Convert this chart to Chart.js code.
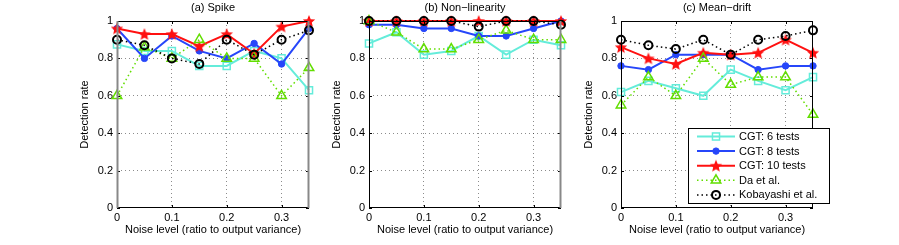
<!DOCTYPE html>
<html>
<head>
<meta charset="utf-8">
<script src="https://cdn.jsdelivr.net/npm/chart.js@4.4.1/dist/chart.umd.min.js"></script>
<style>
  body { margin: 0; background: #fff; }
  #wrap { position: relative; width: 899px; height: 245px; overflow: hidden; background: #fff; }
  canvas { position: absolute; top: 0; }
</style>
</head>
<body>
<div id="wrap">
  <canvas id="chartA" width="270" height="245" style="left:72px"></canvas>
  <canvas id="chartB" width="270" height="245" style="left:324px"></canvas>
  <canvas id="chartC" width="270" height="245" style="left:576px"></canvas>
</div>
<script>
// noise levels on the x axis
const noiseLevels = [0, 0.05, 0.1, 0.15, 0.2, 0.25, 0.3, 0.35];
const xTicks = [0, 0.1, 0.2, 0.3];
const yTicks = [0, 0.2, 0.4, 0.6, 0.8, 1];

const panelTitles = ["(a) Spike", "(b) Non\u2212linearity", "(c) Mean\u2212drift"];
const seriesNames = ["CGT: 6 tests", "CGT: 8 tests", "CGT: 10 tests", "Da et al.", "Kobayashi et al."];

// (a) spike
const spikeCgt6  = [0.875, 0.84, 0.84, 0.76, 0.76, 0.84, 0.80, 0.63];
const spikeCgt8  = [0.96, 0.80, 0.92, 0.84, 0.80, 0.88, 0.77, 0.96];
const spikeCgt10 = [0.96, 0.93, 0.93, 0.865, 0.93, 0.825, 0.97, 1.0];
const spikeDa    = [0.60, 0.86, 0.80, 0.90, 0.80, 0.80, 0.60, 0.75];
const spikeKoba  = [0.90, 0.87, 0.80, 0.77, 0.90, 0.82, 0.90, 0.95];

// (b) non-linearity
const nonlinCgt6  = [0.88, 0.94, 0.82, 0.84, 0.92, 0.82, 0.90, 0.87];
const nonlinCgt8  = [0.98, 0.98, 0.96, 0.96, 0.92, 0.92, 0.96, 1.0];
const nonlinCgt10 = [1, 1, 1, 1, 1, 1, 1, 1];
const nonlinDa    = [1.0, 0.94, 0.85, 0.85, 0.90, 0.95, 0.90, 0.90];
const nonlinKoba  = [1, 1, 1, 1, 0.97, 1, 1, 0.98];

// (c) mean-drift
const driftCgt6  = [0.62, 0.68, 0.64, 0.60, 0.74, 0.68, 0.63, 0.70];
const driftCgt8  = [0.76, 0.74, 0.82, 0.82, 0.82, 0.74, 0.76, 0.76];
const driftCgt10 = [0.86, 0.80, 0.77, 0.83, 0.82, 0.83, 0.90, 0.83];
const driftDa    = [0.55, 0.70, 0.60, 0.80, 0.66, 0.70, 0.70, 0.50];
const driftKoba  = [0.90, 0.87, 0.85, 0.90, 0.82, 0.90, 0.92, 0.95];

const FONT = "'Liberation Sans', Arial, sans-serif";
const colCyan = "rgb(100,236,218)";
const colBlue = "rgb(38,70,250)";
const colRed = "rgb(255,16,16)";
const colGreen = "rgb(98,222,0)";
const colBlack = "#000";

// filled pentagram marker (chart.js "star" is only an asterisk)
function makeStar(size, color){
    const c = document.createElement("canvas");
    c.width = size; c.height = size;
    const g = c.getContext("2d");
    const R = size / 2, r = R * 0.42;
    g.beginPath();
    for(let i = 0; i < 10; i++){
        const rad = (i % 2 === 0) ? R - 0.5 : r;
        const a = -Math.PI / 2 + i * Math.PI / 5;
        const px = R + rad * Math.cos(a), py = R + 0.6 + rad * Math.sin(a);
        if(i === 0) g.moveTo(px, py); else g.lineTo(px, py);
    }
    g.closePath();
    g.fillStyle = color;
    g.fill();
    return c;
}
const starImg = makeStar(14, colRed);

function pts(ys){
    return noiseLevels.map((x, i) => ({ x: x, y: ys[i] }));
}

function buildDatasets(s6, s8, s10, da, koba){
    return [
        { label: seriesNames[0], data: pts(s6), borderColor: colCyan, backgroundColor: "rgba(0,0,0,0)",
          borderWidth: 2, pointStyle: "rect", pointRadius: 5, pointBorderWidth: 1.5, order: 4 },
        { label: seriesNames[1], data: pts(s8), borderColor: colBlue, backgroundColor: colBlue,
          borderWidth: 2, pointStyle: "circle", pointRadius: 3.2, pointBorderWidth: 1, order: 3 },
        { label: seriesNames[2], data: pts(s10), borderColor: colRed, backgroundColor: colRed,
          borderWidth: 2, pointStyle: starImg, pointRadius: 7, order: 2 },
        { label: seriesNames[3], data: pts(da), borderColor: colGreen, backgroundColor: "rgba(0,0,0,0)",
          borderWidth: 1.5, borderDash: [1.5, 3], pointStyle: "triangle", pointRadius: 5.5, pointBorderWidth: 1.5, order: 1 },
        { label: seriesNames[4], data: pts(koba), borderColor: colBlack, backgroundColor: "rgba(0,0,0,0)",
          borderWidth: 1.5, borderDash: [1.5, 3], pointStyle: "circle", pointRadius: 4, pointBorderWidth: 2, order: 0 }
    ].map(d => Object.assign(d, { tension: 0, clip: false, fill: false,
        pointBackgroundColor: d.pointStyle === "circle" && d.order === 3 ? colBlue : "rgba(0,0,0,0)",
        pointBorderColor: d.borderColor }));
}

// box, inward ticks and panel title
const framePlugin = {
    id: "frame",
    afterDraw(chart, args, opts){
        const ctx = chart.ctx;
        const a = chart.chartArea;
        const xs = chart.scales.x, ys = chart.scales.y;
        ctx.save();
        ctx.lineWidth = 1;
        ctx.strokeStyle = "#000";
        ctx.beginPath();
        ctx.moveTo(a.left, a.top + 0.5); ctx.lineTo(a.right, a.top + 0.5);
        ctx.moveTo(a.left, a.bottom - 0.5); ctx.lineTo(a.right, a.bottom - 0.5);
        xTicks.forEach(v => {
            const px = Math.round(xs.getPixelForValue(v)) + 0.5;
            ctx.moveTo(px, a.bottom); ctx.lineTo(px, a.bottom - 3);
            ctx.moveTo(px, a.top); ctx.lineTo(px, a.top + 3);
        });
        yTicks.forEach(v => {
            const py = Math.round(ys.getPixelForValue(v)) + 0.5;
            ctx.moveTo(a.left, py); ctx.lineTo(a.left + 3, py);
            ctx.moveTo(a.right, py); ctx.lineTo(a.right - 3, py);
        });
        ctx.stroke();

        ctx.lineWidth = opts.leftWidth || 1;
        ctx.strokeStyle = opts.leftColor || "#000";
        ctx.beginPath();
        ctx.moveTo(a.left + 0.5, a.top); ctx.lineTo(a.left + 0.5, a.bottom);
        ctx.stroke();
        ctx.lineWidth = opts.rightWidth || 1;
        ctx.strokeStyle = opts.rightColor || "#000";
        ctx.beginPath();
        ctx.moveTo(a.right - 0.5, a.top); ctx.lineTo(a.right - 0.5, a.bottom);
        ctx.stroke();

        ctx.fillStyle = "#000";
        ctx.font = "11px " + FONT;
        ctx.textAlign = "center";
        ctx.textBaseline = "middle";
        ctx.fillText(opts.title, (a.left + a.right) / 2, 8);
        ctx.restore();
    }
};

// legend box drawn inside panel (c)
function drawMarker(ctx, ds, x, y){
    ctx.save();
    ctx.strokeStyle = ds.borderColor;
    ctx.lineWidth = ds.pointBorderWidth || 1;
    ctx.setLineDash([]);
    const r = ds.pointRadius;
    if(ds.pointStyle === starImg){
        ctx.drawImage(starImg, x - starImg.width / 2, y - starImg.height / 2);
    } else if(ds.pointStyle === "rect"){
        const h = r * Math.SQRT1_2;
        ctx.strokeRect(x - h, y - h, 2 * h, 2 * h);
    } else if(ds.pointStyle === "triangle"){
        ctx.beginPath();
        ctx.moveTo(x, y - r);
        ctx.lineTo(x + r * 0.87, y + r * 0.5);
        ctx.lineTo(x - r * 0.87, y + r * 0.5);
        ctx.closePath();
        ctx.stroke();
    } else {
        ctx.beginPath();
        ctx.arc(x, y, r, 0, Math.PI * 2);
        if(ds.pointBackgroundColor !== "rgba(0,0,0,0)"){
            ctx.fillStyle = ds.pointBackgroundColor;
            ctx.fill();
        }
        ctx.stroke();
    }
    ctx.restore();
}

const legendPlugin = {
    id: "boxLegend",
    afterDraw(chart){
        const ctx = chart.ctx;
        const a = chart.chartArea;
        const left = a.left + 67, top = 128, w = 142, h = 76;
        ctx.save();
        ctx.fillStyle = "#fff";
        ctx.fillRect(left, top, w, h);
        ctx.strokeStyle = "#000";
        ctx.lineWidth = 1;
        ctx.strokeRect(left + 0.5, top + 0.5, w - 1, h - 1);
        chart.data.datasets.forEach((ds, i) => {
            const y = top + 8.5 + i * 14.6;
            ctx.save();
            ctx.strokeStyle = ds.borderColor;
            ctx.lineWidth = ds.borderWidth;
            ctx.setLineDash(ds.borderDash || []);
            ctx.beginPath();
            ctx.moveTo(left + 9, y);
            ctx.lineTo(left + 47, y);
            ctx.stroke();
            ctx.restore();
            drawMarker(ctx, ds, left + 28, y);
            ctx.fillStyle = "#000";
            ctx.font = "11px " + FONT;
            ctx.textAlign = "left";
            ctx.textBaseline = "middle";
            ctx.fillText(ds.label, left + 51, y + 0.5);
        });
        ctx.restore();
    }
};

function makePanel(id, title, datasets, frameOpts, withLegend){
    const plugins = [framePlugin];
    if(withLegend) plugins.push(legendPlugin);
    return new Chart(document.getElementById(id), {
        type: "line",
        data: { datasets: datasets },
        plugins: plugins,
        options: {
            responsive: false,
            animation: false,
            devicePixelRatio: 1,
            layout: { padding: { top: 21, right: 33, left: 0, bottom: 0 } },
            plugins: {
                legend: { display: false },
                tooltip: { enabled: false },
                frame: Object.assign({ title: title }, frameOpts)
            },
            scales: {
                x: {
                    type: "linear",
                    min: 0,
                    max: 0.35,
                    afterBuildTicks: function(scale){
                        scale.ticks = xTicks.map(v => ({ value: v }));
                    },
                    afterFit: function(scale){ scale.height = 37; },
                    grid: {
                        drawTicks: false,
                        color: ctx => (ctx.tick && ctx.tick.value > 0 ? "rgba(0,0,0,0.45)" : "rgba(0,0,0,0)"),
                        lineWidth: 1
                    },
                    border: { display: false, dash: [1, 3] },
                    ticks: {
                        padding: 3,
                        color: "#000",
                        font: { family: FONT, size: 11 },
                        maxRotation: 0,
                        callback: v => String(Number(v.toFixed(2)))
                    },
                    title: {
                        display: true,
                        text: "Noise level (ratio to output variance)",
                        color: "#000",
                        font: { family: FONT, size: 11 },
                        padding: { top: 0, bottom: 8 }
                    }
                },
                y: {
                    min: 0,
                    max: 1,
                    afterBuildTicks: function(scale){
                        scale.ticks = yTicks.map(v => ({ value: v }));
                    },
                    afterFit: function(scale){ scale.width = 45; },
                    grid: {
                        drawTicks: false,
                        color: ctx => (ctx.tick && ctx.tick.value > 0 && ctx.tick.value < 1 ? "rgba(0,0,0,0.45)" : "rgba(0,0,0,0)"),
                        lineWidth: 1
                    },
                    border: { display: false, dash: [1, 3] },
                    ticks: {
                        padding: 4,
                        color: "#000",
                        font: { family: FONT, size: 11 },
                        callback: v => String(Number(v.toFixed(2)))
                    },
                    title: {
                        display: true,
                        text: "Detection rate",
                        color: "#000",
                        font: { family: FONT, size: 11 },
                        padding: { top: 6, bottom: 0 }
                    }
                }
            }
        }
    });
}

makePanel("chartA", panelTitles[0], buildDatasets(spikeCgt6, spikeCgt8, spikeCgt10, spikeDa, spikeKoba),
    { leftColor: "#888", leftWidth: 2, rightColor: "#888", rightWidth: 2 }, false);
makePanel("chartB", panelTitles[1], buildDatasets(nonlinCgt6, nonlinCgt8, nonlinCgt10, nonlinDa, nonlinKoba),
    { rightColor: "#888", rightWidth: 2 }, false);
makePanel("chartC", panelTitles[2], buildDatasets(driftCgt6, driftCgt8, driftCgt10, driftDa, driftKoba),
    {}, true);
</script>
</body>
</html>
